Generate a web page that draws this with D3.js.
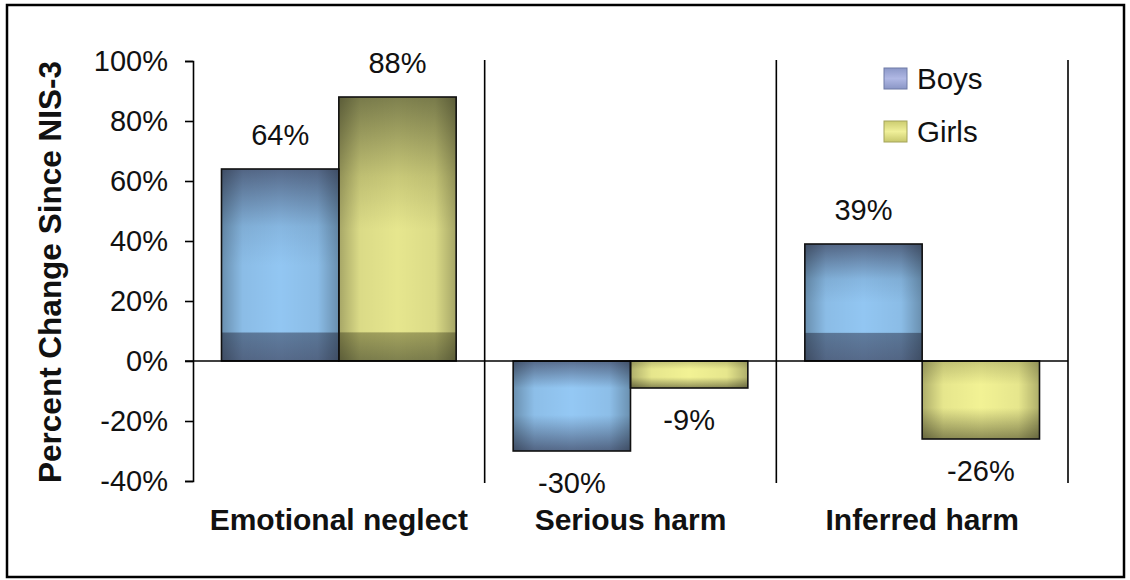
<!DOCTYPE html>
<html>
<head>
<meta charset="utf-8">
<script src="https://cdn.jsdelivr.net/npm/d3@7"></script>
<style>
  html, body { margin: 0; padding: 0; background: #fff; }
  svg { display: block; }
  text { font-family: "Liberation Sans", Arial, sans-serif; fill: #111; }
</style>
</head>
<body>
<svg id="chart" width="1130" height="580"></svg>
<script>
const categories = ["Emotional neglect", "Serious harm", "Inferred harm"];
const seriesNames = ["Boys", "Girls"];
const boysValues = [64, -30, 39];
const girlsValues = [88, -9, -26];
const yTickValues = [-40, -20, 0, 20, 40, 60, 80, 100];
const yTitle = "Percent Change Since NIS-3";

const svg = d3.select("#chart");
const W = 1130, H = 580;

svg.append("rect").attr("x", 0).attr("y", 0).attr("width", W).attr("height", H).attr("fill", "#fff");
svg.append("rect").attr("x", 7).attr("y", 5).attr("width", 1117).attr("height", 572)
  .attr("fill", "none").attr("stroke", "#000").attr("stroke-width", 2.5);

const defs = svg.append("defs");
function vGrad(id, stops) {
  const g = defs.append("linearGradient").attr("id", id)
    .attr("x1", 0).attr("y1", 0).attr("x2", 0).attr("y2", 1);
  stops.forEach(s => g.append("stop").attr("offset", s[0]).attr("stop-color", s[1]));
}
const hg = defs.append("linearGradient").attr("id", "gEdge").attr("x1", 0).attr("y1", 0).attr("x2", 1).attr("y2", 0);
[[0, 0.28], [0.18, 0.05], [0.5, 0], [0.82, 0.05], [1, 0.28]].forEach(s =>
  hg.append("stop").attr("offset", s[0]).attr("stop-color", "#000").attr("stop-opacity", s[1]));
vGrad("gLegBoys", [[0, "#8c98c8"], [0.5, "#b0b8e4"], [1, "#8a96c6"]]);
vGrad("gLegGirls", [[0, "#cccc70"], [0.5, "#f0f09a"], [1, "#c8c86c"]]);

const palette = {
  Boys:  { dark: "#566a8a", light: "#92c6f2", mid: "#86b6e0", band: "#5f7c9e" },
  Girls: { dark: "#7e804e", light: "#e6e68e", mid: "#c8c878", band: "#a2a25e" }
};
const paletteNeg = {
  Boys:  { top: "#5a6f90", light: "#94c8f4", bottom: "#566a8a" },
  Girls: { top: "#c8c878", light: "#f2f294", bottom: "#8e8e56" }
};

const x0 = d3.scaleBand().domain(categories).range([193, 1068]).paddingInner(0).paddingOuter(0);
const x1 = d3.scaleBand().domain(seriesNames).range([28.5, x0.bandwidth() - 28.5]).padding(0);
const y = d3.scaleLinear().domain([-40, 100]).range([481, 61]);

const data = categories.map((c, i) => ({
  cat: c,
  vals: [{ s: "Boys", v: boysValues[i], id: "b" + i }, { s: "Girls", v: girlsValues[i], id: "g" + i }]
}));

// per-bar gradients
data.forEach(d => d.vals.forEach(b => {
  const h = Math.abs(y(b.v) - y(0));
  if (b.v >= 0) {
    const p = palette[b.s];
    const bandStart = Math.max(0.5, 1 - 28 / h);
    vGrad("grad-" + b.id, [[0, p.dark], [0.3, p.mid], [0.5, p.light], [bandStart - 0.005, p.light], [bandStart, p.band], [1, p.dark]]);
  } else {
    const p = paletteNeg[b.s];
    vGrad("grad-" + b.id, [[0, p.top], [0.3, p.light], [0.6, p.light], [1, p.bottom]]);
  }
}));

// separators
categories.forEach(c => {
  svg.append("line")
    .attr("x1", x0(c) + x0.bandwidth()).attr("x2", x0(c) + x0.bandwidth())
    .attr("y1", y(100) - 1).attr("y2", y(-40) + 2)
    .attr("stroke", "#000").attr("stroke-width", 1.6);
});

const groups = svg.append("g").selectAll("g").data(data).join("g")
  .attr("transform", d => `translate(${x0(d.cat)},0)`);

groups.selectAll("rect.bar").data(d => d.vals).join("rect")
  .attr("class", "bar")
  .attr("x", d => x1(d.s)).attr("width", x1.bandwidth())
  .attr("y", d => y(Math.max(0, d.v))).attr("height", d => Math.abs(y(d.v) - y(0)))
  .attr("fill", d => `url(#grad-${d.id})`);

groups.selectAll("rect.edge").data(d => d.vals).join("rect")
  .attr("class", "edge")
  .attr("x", d => x1(d.s)).attr("width", x1.bandwidth())
  .attr("y", d => y(Math.max(0, d.v))).attr("height", d => Math.abs(y(d.v) - y(0)))
  .attr("fill", "url(#gEdge)").attr("stroke", "#111").attr("stroke-width", 1.6);

groups.selectAll("text.val").data(d => d.vals).join("text")
  .attr("class", "val")
  .attr("x", d => x1(d.s) + x1.bandwidth() / 2)
  .attr("y", d => d.v >= 0 ? y(d.v) - 24 : y(d.v) + 42)
  .attr("text-anchor", "middle")
  .style("font-size", "29px")
  .text(d => d.v + "%");

svg.append("line").attr("x1", 185).attr("x2", x0.range()[1]).attr("y1", y(0)).attr("y2", y(0))
  .attr("stroke", "#000").attr("stroke-width", 1.6);

const yAxis = d3.axisLeft(y).tickValues(yTickValues).tickSize(8).tickPadding(17).tickFormat(d => d + "%");
const ga = svg.append("g").attr("transform", "translate(193,0)").call(yAxis);
ga.select(".domain").attr("stroke", "#000").attr("stroke-width", 1.6);
ga.selectAll(".tick line").attr("stroke", "#000").attr("stroke-width", 1.6);
ga.selectAll(".tick text").style("font-size", "29px").style("font-family", "'Liberation Sans', Arial, sans-serif").attr("fill", "#111");

svg.append("g").selectAll("text").data(categories).join("text")
  .attr("x", d => x0(d) + x0.bandwidth() / 2)
  .attr("y", 530)
  .attr("text-anchor", "middle")
  .style("font-size", "30px").style("font-weight", "bold")
  .text(d => d);

svg.append("text")
  .attr("transform", `translate(61,${(59 + 485) / 2}) rotate(-90)`)
  .attr("text-anchor", "middle")
  .style("font-size", "31.5px").style("font-weight", "bold")
  .text(yTitle);

const leg = svg.append("g").selectAll("g").data(seriesNames).join("g")
  .attr("transform", (d, i) => `translate(884,${68 + i * 53})`);
leg.append("rect").attr("width", 23).attr("height", 21)
  .attr("fill", d => d === "Boys" ? "url(#gLegBoys)" : "url(#gLegGirls)")
  .attr("stroke", d => d === "Boys" ? "#6f7aa6" : "#a4a45a").attr("stroke-width", 1);
leg.append("text").attr("x", 33).attr("y", 21)
  .style("font-size", "29.5px").text(d => d);
</script>
</body>
</html>
